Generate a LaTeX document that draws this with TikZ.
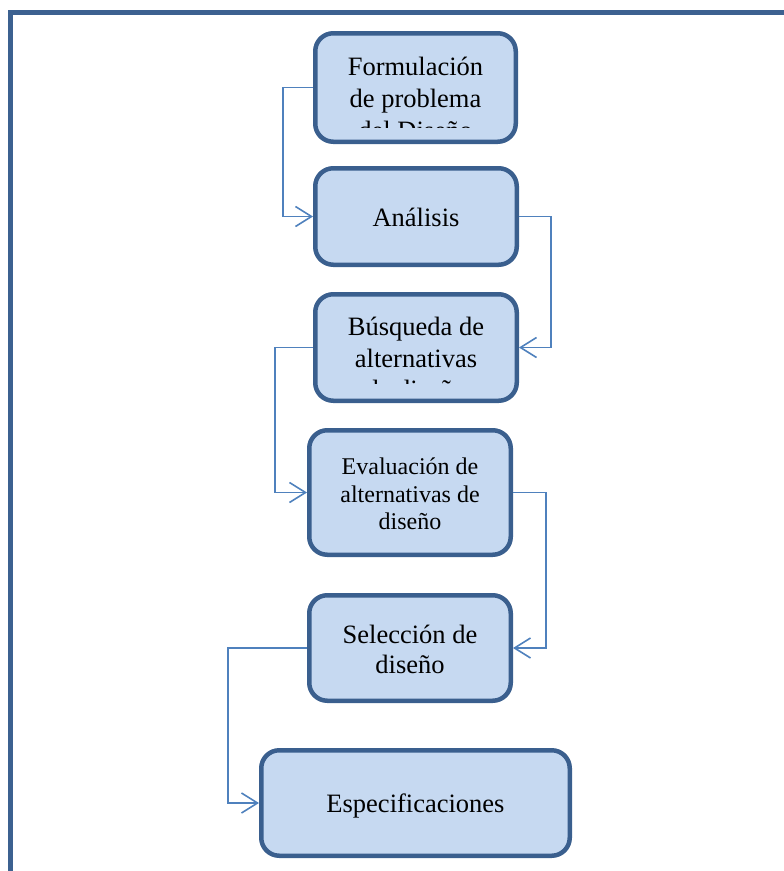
\documentclass[tikz,border=0pt]{standalone}
\usepackage{fontspec}
\setmainfont{Liberation Serif}
\usetikzlibrary{arrows.meta}
\definecolor{boxfill}{HTML}{C6D9F1}
\definecolor{boxline}{HTML}{3A5F8E}
\definecolor{conncol}{HTML}{4F81BD}
\definecolor{framecol}{HTML}{3C6190}
\begin{document}
\begin{tikzpicture}[x=1pt,y=-1pt,
 stepbox/.style={draw=boxline, fill=boxfill, line width=4.5pt, rounded corners=18pt, inner sep=0pt},
 conn/.style={draw=conncol, line width=1.6pt, -{Straight Barb[length=16pt,width=20pt]}},
 bigtxt/.style={font=\fontsize{26.5}{31}\selectfont, anchor=base, inner sep=0pt},
 smtxt/.style={font=\fontsize{24}{27}\selectfont, anchor=base, inner sep=0pt}]
\clip (0,0) rectangle (784,871);
% frame
\draw[framecol, line width=5pt] (800,12.5) -- (10.5,12.5) -- (10.5,890);
% boxes
\node[stepbox, minimum width=200.5pt, minimum height=108.5pt] (b1) at (415.5,87.5) {};
\node[stepbox, minimum width=201.5pt, minimum height=96.5pt] (b2) at (416,216.5) {};
\node[stepbox, minimum width=201.5pt, minimum height=106.5pt] (b3) at (416,347.5) {};
\node[stepbox, minimum width=201.5pt, minimum height=124.5pt] (b4) at (410,492.5) {};
\node[stepbox, minimum width=201.5pt, minimum height=105.5pt] (b5) at (410,648) {};
\node[stepbox, minimum width=308.5pt, minimum height=105.5pt] (b6) at (415.5,803) {};
% texts
\node[bigtxt] (t1a) at (415.5,75) {Formulación};
\node[bigtxt] (t1b) at (415.5,107) {de problema};
\begin{scope}
\clip (300,20) rectangle (530,127);
\node[bigtxt] (t1c) at (415.5,139) {del Diseño};
\end{scope}
\node[bigtxt] (t2a) at (416,226) {Análisis};
\node[bigtxt] (t3a) at (416,335) {Búsqueda de};
\node[bigtxt] (t3b) at (416,367) {alternativas};
\begin{scope}
\clip (300,300) rectangle (530,383);
\node[bigtxt] (t3c) at (416,398) {de diseño};
\end{scope}
\node[smtxt] (t4a) at (410,474) {Evaluación de};
\node[smtxt] (t4b) at (410,502) {alternativas de};
\node[smtxt] (t4c) at (410,529) {diseño};
\node[bigtxt] (t5a) at (410,643) {Selección de};
\node[bigtxt] (t5b) at (410,673) {diseño};
\node[bigtxt] (t6a) at (415.5,812) {Especificaciones};
% connectors
\draw[conn] (b1.west) -- ++(-30,0) |- (b2.west);
\draw[conn] (b2.east) -- ++(32,0) |- (b3.east);
\draw[conn] (b3.west) -- ++(-38,0) |- (b4.west);
\draw[conn] (b4.east) -- ++(33,0) |- (b5.east);
\draw[conn] (b5.west) -- ++(-79,0) |- (b6.west);
\end{tikzpicture}
\end{document}
